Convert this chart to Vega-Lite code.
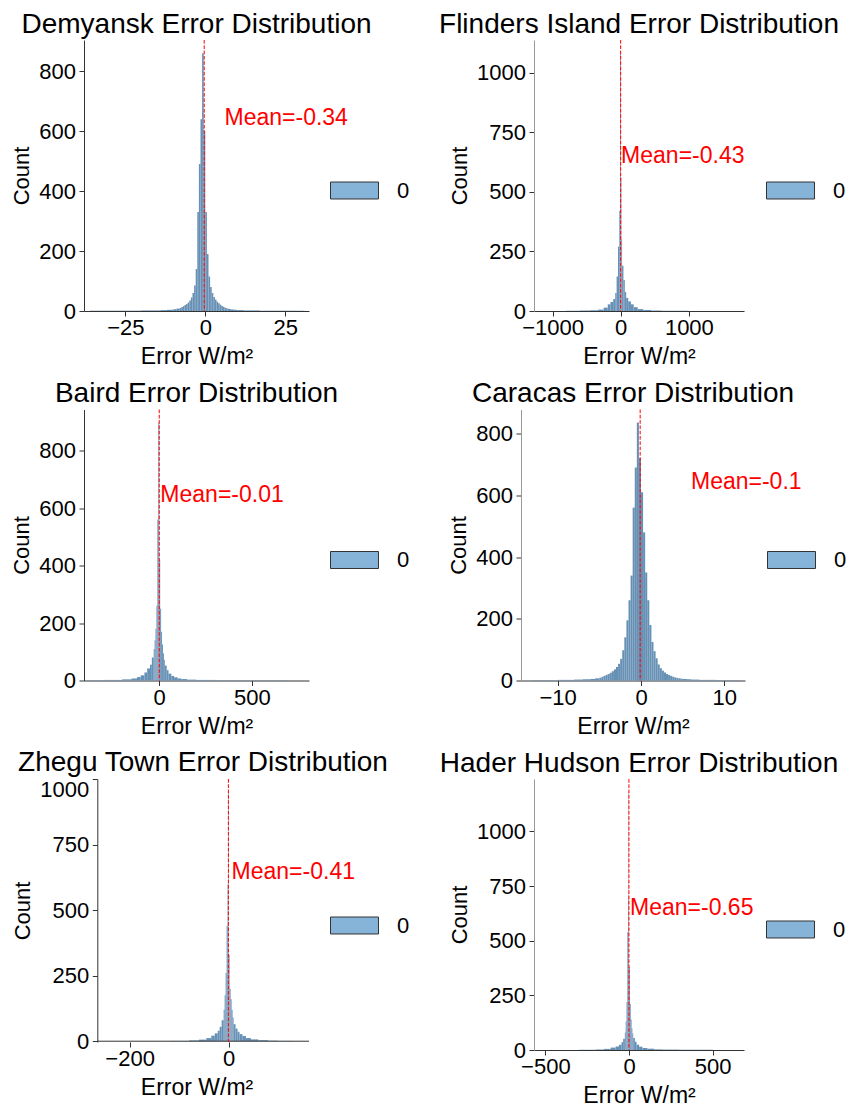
{
 "$schema": "https://vega.github.io/schema/vega-lite/v6.json",
 "background": "white",
 "padding": {"left": 10, "top": 10, "right": 0, "bottom": 0},
 "config": {
  "font": "Liberation Sans",
  "view": {"stroke": null},
  "axis": {"grid": false, "domainColor": "#333", "tickColor": "#333", "labelColor": "#000", "titleColor": "#000", "labelFontSize": 22, "titleFontSize": 22, "titleFontWeight": "normal", "tickSize": 5, "labelFont": "Liberation Sans", "titleFont": "Liberation Sans", "labelFlush": false, "labelOverlap": false, "format": "d"},
  "axisX": {"labelPadding": 1.5, "titlePadding": 7, "titleFontSize": 23},
  "axisY": {"labelPadding": 3.5, "titlePadding": 5},
  "title": {"fontSize": 28, "fontWeight": "normal", "color": "#000", "font": "Liberation Sans", "frame": "group", "anchor": "middle", "offset": 1, "baseline": "alphabetic"},
  "legend": {"orient": "none", "title": null, "labelFontSize": 22, "labelColor": "#000", "labelFont": "Liberation Sans", "labelOffset": 18, "padding": 0, "symbolType": "M-1,-0.354H1V0.354H-1Z", "symbolSize": 2304, "symbolStrokeColor": "#333", "symbolStrokeWidth": 1}
 },
 "datasets": {
  "stats": [
   {"station": "Demyansk", "mean": -0.34, "label": "Mean=-0.34"},
   {"station": "Flinders Island", "mean": -0.43, "label": "Mean=-0.43"},
   {"station": "Baird", "mean": -0.01, "label": "Mean=-0.01"},
   {"station": "Caracas", "mean": -0.1, "label": "Mean=-0.1"},
   {"station": "Zhegu Town", "mean": -0.41, "label": "Mean=-0.41"},
   {"station": "Hader Hudson", "mean": -0.65, "label": "Mean=-0.65"}
  ],
  "dem": [
   {"a": -36, "b": -32, "c": 1}, {"a": -32, "b": -28, "c": 1}, {"a": -28, "b": -24, "c": 1}, {"a": -24, "b": -20, "c": 1}, {"a": -20, "b": -17, "c": 2}, {"a": -17, "b": -14, "c": 2}, {"a": -14, "b": -12, "c": 3}, {"a": -12, "b": -10, "c": 4}, {"a": -10, "b": -9, "c": 6}, {"a": -9, "b": -8, "c": 8},
   {"a": -8, "b": -7.5, "c": 10}, {"a": -7.5, "b": -7, "c": 13}, {"a": -7, "b": -6.5, "c": 16}, {"a": -6.5, "b": -6, "c": 20}, {"a": -6, "b": -5.5, "c": 23}, {"a": -5.5, "b": -5, "c": 28}, {"a": -5, "b": -4.5, "c": 35}, {"a": -4.5, "b": -4, "c": 45}, {"a": -4, "b": -3.5, "c": 60}, {"a": -3.5, "b": -3, "c": 85}, {"a": -3, "b": -2.5, "c": 140}, {"a": -2.5, "b": -2, "c": 330}, {"a": -2, "b": -1.5, "c": 490}, {"a": -1.5, "b": -1, "c": 640}, {"a": -1, "b": -0.5, "c": 860}, {"a": -0.5, "b": 0, "c": 600}, {"a": 0, "b": 0.5, "c": 330}, {"a": 0.5, "b": 1, "c": 190}, {"a": 1, "b": 1.5, "c": 115}, {"a": 1.5, "b": 2, "c": 80}, {"a": 2, "b": 2.5, "c": 60}, {"a": 2.5, "b": 3, "c": 47}, {"a": 3, "b": 3.5, "c": 38}, {"a": 3.5, "b": 4, "c": 31}, {"a": 4, "b": 4.5, "c": 26}, {"a": 4.5, "b": 5, "c": 21}, {"a": 5, "b": 5.5, "c": 17}, {"a": 5.5, "b": 6, "c": 14}, {"a": 6, "b": 6.5, "c": 11}, {"a": 6.5, "b": 7, "c": 9},
   {"a": 7, "b": 8, "c": 7}, {"a": 8, "b": 9, "c": 5}, {"a": 9, "b": 10, "c": 4}, {"a": 10, "b": 12, "c": 3}, {"a": 12, "b": 14, "c": 2}, {"a": 14, "b": 17, "c": 2}, {"a": 17, "b": 20, "c": 1}, {"a": 20, "b": 24, "c": 1}, {"a": 24, "b": 28, "c": 1}, {"a": 28, "b": 31, "c": 1}
  ],
  "fli": [
   {"a": -800, "b": -600, "c": 1}, {"a": -600, "b": -450, "c": 2}, {"a": -450, "b": -330, "c": 3}, {"a": -330, "b": -250, "c": 6}, {"a": -250, "b": -190, "c": 14}, {"a": -190, "b": -150, "c": 28}, {"a": -150, "b": -110, "c": 38}, {"a": -110, "b": -80, "c": 50}, {"a": -80, "b": -60, "c": 75}, {"a": -60, "b": -40, "c": 145}, {"a": -40, "b": -20, "c": 270}, {"a": -20, "b": -10, "c": 420}, {"a": -10, "b": 0, "c": 1085}, {"a": 0, "b": 10, "c": 560}, {"a": 10, "b": 20, "c": 300}, {"a": 20, "b": 40, "c": 190}, {"a": 40, "b": 60, "c": 130}, {"a": 60, "b": 80, "c": 80}, {"a": 80, "b": 110, "c": 55}, {"a": 110, "b": 150, "c": 40}, {"a": 150, "b": 190, "c": 28}, {"a": 190, "b": 250, "c": 16}, {"a": 250, "b": 330, "c": 8}, {"a": 330, "b": 450, "c": 4}, {"a": 450, "b": 600, "c": 2}, {"a": 600, "b": 800, "c": 1}, {"a": 800, "b": 1000, "c": 1}
  ],
  "bai": [
   {"a": -400, "b": -300, "c": 1}, {"a": -300, "b": -200, "c": 2}, {"a": -200, "b": -150, "c": 4}, {"a": -150, "b": -120, "c": 7}, {"a": -120, "b": -100, "c": 12}, {"a": -100, "b": -80, "c": 18}, {"a": -80, "b": -65, "c": 28}, {"a": -65, "b": -50, "c": 42}, {"a": -50, "b": -40, "c": 55}, {"a": -40, "b": -30, "c": 80}, {"a": -30, "b": -25, "c": 110}, {"a": -25, "b": -20, "c": 140}, {"a": -20, "b": -15, "c": 180}, {"a": -15, "b": -10, "c": 260}, {"a": -10, "b": -5, "c": 560}, {"a": -5, "b": 0, "c": 898}, {"a": 0, "b": 5, "c": 420}, {"a": 5, "b": 10, "c": 250}, {"a": 10, "b": 15, "c": 170}, {"a": 15, "b": 20, "c": 125}, {"a": 20, "b": 25, "c": 95}, {"a": 25, "b": 30, "c": 72}, {"a": 30, "b": 40, "c": 52}, {"a": 40, "b": 50, "c": 36}, {"a": 50, "b": 65, "c": 24}, {"a": 65, "b": 80, "c": 16}, {"a": 80, "b": 100, "c": 11}, {"a": 100, "b": 120, "c": 7}, {"a": 120, "b": 150, "c": 5}, {"a": 150, "b": 200, "c": 3}, {"a": 200, "b": 300, "c": 2}, {"a": 300, "b": 450, "c": 1}, {"a": 450, "b": 700, "c": 1}
  ],
  "car": [
   {"a": -13, "b": -12, "c": 1}, {"a": -12, "b": -11, "c": 1}, {"a": -11, "b": -10, "c": 1}, {"a": -10, "b": -9, "c": 2}, {"a": -9, "b": -8, "c": 2}, {"a": -8, "b": -7, "c": 3}, {"a": -7, "b": -6, "c": 4}, {"a": -6, "b": -5.5, "c": 5}, {"a": -5.5, "b": -5, "c": 7},
   {"a": -5, "b": -4.75, "c": 9}, {"a": -4.75, "b": -4.5, "c": 12}, {"a": -4.5, "b": -4.25, "c": 15}, {"a": -4.25, "b": -4, "c": 18}, {"a": -4, "b": -3.75, "c": 21}, {"a": -3.75, "b": -3.5, "c": 25}, {"a": -3.5, "b": -3.25, "c": 30}, {"a": -3.25, "b": -3, "c": 36}, {"a": -3, "b": -2.75, "c": 44}, {"a": -2.75, "b": -2.5, "c": 54}, {"a": -2.5, "b": -2.25, "c": 70}, {"a": -2.25, "b": -2, "c": 98}, {"a": -2, "b": -1.75, "c": 140}, {"a": -1.75, "b": -1.5, "c": 195}, {"a": -1.5, "b": -1.25, "c": 260}, {"a": -1.25, "b": -1, "c": 340}, {"a": -1, "b": -0.75, "c": 560}, {"a": -0.75, "b": -0.5, "c": 690}, {"a": -0.5, "b": -0.25, "c": 836}, {"a": -0.25, "b": 0, "c": 720},
   {"a": 0, "b": 0.25, "c": 610}, {"a": 0.25, "b": 0.5, "c": 480}, {"a": 0.5, "b": 0.75, "c": 350}, {"a": 0.75, "b": 1, "c": 260}, {"a": 1, "b": 1.25, "c": 180}, {"a": 1.25, "b": 1.5, "c": 125}, {"a": 1.5, "b": 1.75, "c": 95}, {"a": 1.75, "b": 2, "c": 72}, {"a": 2, "b": 2.25, "c": 52}, {"a": 2.25, "b": 2.5, "c": 40}, {"a": 2.5, "b": 2.75, "c": 32}, {"a": 2.75, "b": 3, "c": 26}, {"a": 3, "b": 3.25, "c": 21}, {"a": 3.25, "b": 3.5, "c": 18}, {"a": 3.5, "b": 3.75, "c": 15}, {"a": 3.75, "b": 4, "c": 12}, {"a": 4, "b": 4.25, "c": 10}, {"a": 4.25, "b": 4.5, "c": 8}, {"a": 4.5, "b": 4.75, "c": 7}, {"a": 4.75, "b": 5, "c": 6},
   {"a": 5, "b": 5.5, "c": 5}, {"a": 5.5, "b": 6, "c": 4}, {"a": 6, "b": 7, "c": 3}, {"a": 7, "b": 8, "c": 2}, {"a": 8, "b": 9, "c": 2}, {"a": 9, "b": 10, "c": 1}, {"a": 10, "b": 11, "c": 1}, {"a": 11, "b": 12, "c": 1}
  ],
  "zhe": [
   {"a": -120, "b": -80, "c": 1}, {"a": -80, "b": -60, "c": 3}, {"a": -60, "b": -45, "c": 6}, {"a": -45, "b": -35, "c": 12}, {"a": -35, "b": -28, "c": 21}, {"a": -28, "b": -22, "c": 30}, {"a": -22, "b": -18, "c": 40}, {"a": -18, "b": -14, "c": 55}, {"a": -14, "b": -10, "c": 80}, {"a": -10, "b": -8, "c": 120}, {"a": -8, "b": -6, "c": 175}, {"a": -6, "b": -4, "c": 260}, {"a": -4, "b": -2, "c": 440}, {"a": -2, "b": -1, "c": 600}, {"a": -1, "b": 0, "c": 952}, {"a": 0, "b": 2, "c": 330}, {"a": 2, "b": 4, "c": 200}, {"a": 4, "b": 6, "c": 160}, {"a": 6, "b": 8, "c": 120}, {"a": 8, "b": 10, "c": 90}, {"a": 10, "b": 14, "c": 65}, {"a": 14, "b": 18, "c": 48}, {"a": 18, "b": 22, "c": 36}, {"a": 22, "b": 28, "c": 27}, {"a": 28, "b": 35, "c": 20}, {"a": 35, "b": 45, "c": 12}, {"a": 45, "b": 60, "c": 7}, {"a": 60, "b": 80, "c": 4}, {"a": 80, "b": 100, "c": 2}, {"a": 100, "b": 130, "c": 1}
  ],
  "had": [
   {"a": -300, "b": -200, "c": 1}, {"a": -200, "b": -150, "c": 2}, {"a": -150, "b": -110, "c": 5}, {"a": -110, "b": -80, "c": 11}, {"a": -80, "b": -60, "c": 16}, {"a": -60, "b": -45, "c": 24}, {"a": -45, "b": -35, "c": 36}, {"a": -35, "b": -25, "c": 52}, {"a": -25, "b": -20, "c": 80}, {"a": -20, "b": -15, "c": 130}, {"a": -15, "b": -10, "c": 220}, {"a": -10, "b": -5, "c": 540}, {"a": -5, "b": -3, "c": 1180}, {"a": -3, "b": 0, "c": 700}, {"a": 0, "b": 5, "c": 380}, {"a": 5, "b": 10, "c": 210}, {"a": 10, "b": 15, "c": 140}, {"a": 15, "b": 20, "c": 100}, {"a": 20, "b": 25, "c": 75}, {"a": 25, "b": 35, "c": 55}, {"a": 35, "b": 45, "c": 38}, {"a": 45, "b": 60, "c": 24}, {"a": 60, "b": 80, "c": 15}, {"a": 80, "b": 110, "c": 9}, {"a": 110, "b": 150, "c": 6}, {"a": 150, "b": 200, "c": 3}, {"a": 200, "b": 300, "c": 2}, {"a": 300, "b": 500, "c": 1}
  ]
 },
 "resolve": {"scale": {"fill": "independent"}, "legend": {"fill": "independent"}},
 "spacing": 10.5,
 "vconcat": [
  {
   "bounds": "flush", "spacing": 225,
   "resolve": {"scale": {"fill": "independent"}, "legend": {"fill": "independent"}},
   "hconcat": [
    {
     "width": 225, "height": 271,
     "title": "Demyansk Error Distribution",
     "layer": [
      {"data": {"name": "dem"}, "mark": {"type": "bar", "color": "#6790b5"},
       "encoding": {
        "x": {"field": "a", "type": "quantitative", "scale": {"domain": [-37.9, 32.4], "nice": false, "zero": false}, "axis": {"title": "Error W/m²", "values": [-25, 0, 25]}},
        "x2": {"field": "b"},
        "y": {"field": "c", "type": "quantitative", "scale": {"domain": [0, 904], "nice": false}, "axis": {"title": "Count", "values": [0, 200, 400, 600, 800]}},
        "y2": {"datum": 0}
       }},
      {"data": {"name": "stats"}, "transform": [{"filter": "datum.station == 'Demyansk'"}], "mark": {"type": "bar"},
       "encoding": {"x": {"datum": 0}, "x2": {"datum": 0}, "y": {"datum": 0}, "y2": {"datum": 0},
        "fill": {"datum": "0", "type": "nominal", "scale": {"range": ["#86b4d8"]}, "legend": {"legendX": 246, "legendY": 126}}}},
      {"data": {"name": "stats"}, "transform": [{"filter": "datum.station == 'Demyansk'"}], "mark": {"type": "rule", "color": "#ff0000", "strokeDash": [3.7, 1.6], "strokeWidth": 1}, "encoding": {"x": {"field": "mean", "type": "quantitative"}}},
      {"data": {"name": "stats"}, "transform": [{"filter": "datum.station == 'Demyansk'"}], "mark": {"type": "text", "color": "#ff0000", "fontSize": 23, "font": "Liberation Sans", "align": "left", "baseline": "alphabetic"}, "encoding": {"x": {"datum": 6}, "y": {"datum": 620}, "text": {"field": "label"}}}
     ]
    },
    {
     "width": 210, "height": 271,
     "title": "Flinders Island Error Distribution",
     "layer": [
      {"data": {"name": "fli"}, "mark": {"type": "bar", "color": "#6790b5"},
       "encoding": {
        "x": {"field": "a", "type": "quantitative", "scale": {"domain": [-1272, 1809], "nice": false, "zero": false}, "axis": {"title": "Error W/m²", "values": [-1000, 0, 1000]}},
        "x2": {"field": "b"},
        "y": {"field": "c", "type": "quantitative", "scale": {"domain": [0, 1137], "nice": false}, "axis": {"title": "Count", "values": [0, 250, 500, 750, 1000], "domainColor": "#999"}},
        "y2": {"datum": 0}
       }},
      {"data": {"name": "stats"}, "transform": [{"filter": "datum.station == 'Flinders Island'"}], "mark": {"type": "bar"},
       "encoding": {"x": {"datum": 0}, "x2": {"datum": 0}, "y": {"datum": 0}, "y2": {"datum": 0},
        "fill": {"datum": "0", "type": "nominal", "scale": {"range": ["#86b4d8"]}, "legend": {"legendX": 232, "legendY": 126}}}},
      {"data": {"name": "stats"}, "transform": [{"filter": "datum.station == 'Flinders Island'"}], "mark": {"type": "rule", "color": "#ff0000", "strokeDash": [3.7, 1.6], "strokeWidth": 1}, "encoding": {"x": {"field": "mean", "type": "quantitative"}}},
      {"data": {"name": "stats"}, "transform": [{"filter": "datum.station == 'Flinders Island'"}], "mark": {"type": "text", "color": "#ff0000", "fontSize": 23, "font": "Liberation Sans", "align": "left", "baseline": "alphabetic"}, "encoding": {"x": {"datum": 6}, "y": {"datum": 620}, "text": {"field": "label"}}}
     ]
    }
   ]
  },
  {
   "bounds": "flush", "spacing": 212,
   "resolve": {"scale": {"fill": "independent"}, "legend": {"fill": "independent"}},
   "hconcat": [
    {
     "width": 225, "height": 271,
     "title": "Baird Error Distribution",
     "layer": [
      {"data": {"name": "bai"}, "mark": {"type": "bar", "color": "#6790b5"},
       "encoding": {
        "x": {"field": "a", "type": "quantitative", "scale": {"domain": [-406, 808], "nice": false, "zero": false}, "axis": {"title": "Error W/m²", "values": [0, 500]}},
        "x2": {"field": "b"},
        "y": {"field": "c", "type": "quantitative", "scale": {"domain": [0, 943], "nice": false}, "axis": {"title": "Count", "values": [0, 200, 400, 600, 800]}},
        "y2": {"datum": 0}
       }},
      {"data": {"name": "stats"}, "transform": [{"filter": "datum.station == 'Baird'"}], "mark": {"type": "bar"},
       "encoding": {"x": {"datum": 0}, "x2": {"datum": 0}, "y": {"datum": 0}, "y2": {"datum": 0},
        "fill": {"datum": "0", "type": "nominal", "scale": {"range": ["#86b4d8"]}, "legend": {"legendX": 246, "legendY": 126}}}},
      {"data": {"name": "stats"}, "transform": [{"filter": "datum.station == 'Baird'"}], "mark": {"type": "rule", "color": "#ff0000", "strokeDash": [3.7, 1.6], "strokeWidth": 1}, "encoding": {"x": {"field": "mean", "type": "quantitative"}}},
      {"data": {"name": "stats"}, "transform": [{"filter": "datum.station == 'Baird'"}], "mark": {"type": "text", "color": "#ff0000", "fontSize": 23, "font": "Liberation Sans", "align": "left", "baseline": "alphabetic"}, "encoding": {"x": {"datum": 6}, "y": {"datum": 620}, "text": {"field": "label"}}}
     ]
    },
    {
     "width": 224, "height": 271,
     "title": "Caracas Error Distribution",
     "layer": [
      {"data": {"name": "car"}, "mark": {"type": "bar", "color": "#6790b5"},
       "encoding": {
        "x": {"field": "a", "type": "quantitative", "scale": {"domain": [-14.4, 12.48], "nice": false, "zero": false}, "axis": {"title": "Error W/m²", "values": [-10, 0, 10]}},
        "x2": {"field": "b"},
        "y": {"field": "c", "type": "quantitative", "scale": {"domain": [0, 878], "nice": false}, "axis": {"title": "Count", "values": [0, 200, 400, 600, 800], "domainColor": "#999"}},
        "y2": {"datum": 0}
       }},
      {"data": {"name": "stats"}, "transform": [{"filter": "datum.station == 'Caracas'"}], "mark": {"type": "bar"},
       "encoding": {"x": {"datum": 0}, "x2": {"datum": 0}, "y": {"datum": 0}, "y2": {"datum": 0},
        "fill": {"datum": "0", "type": "nominal", "scale": {"range": ["#86b4d8"]}, "legend": {"legendX": 246, "legendY": 126}}}},
      {"data": {"name": "stats"}, "transform": [{"filter": "datum.station == 'Caracas'"}], "mark": {"type": "rule", "color": "#ff0000", "strokeDash": [3.7, 1.6], "strokeWidth": 1}, "encoding": {"x": {"field": "mean", "type": "quantitative"}}},
      {"data": {"name": "stats"}, "transform": [{"filter": "datum.station == 'Caracas'"}], "mark": {"type": "text", "color": "#ff0000", "fontSize": 23, "font": "Liberation Sans", "align": "left", "baseline": "alphabetic"}, "encoding": {"x": {"datum": 6}, "y": {"datum": 620}, "text": {"field": "label"}}}
     ]
    }
   ]
  },
  {
   "bounds": "flush", "spacing": 225,
   "resolve": {"scale": {"fill": "independent"}, "legend": {"fill": "independent"}},
   "hconcat": [
    {
     "width": 225, "height": 263,
     "title": {"text": "Zhegu Town Error Distribution", "dx": 6.5},
     "layer": [
      {"data": {"name": "zhe"}, "mark": {"type": "bar", "color": "#6790b5"},
       "encoding": {
        "x": {"field": "a", "type": "quantitative", "scale": {"domain": [-292.1, 162.4], "nice": false, "zero": false}, "axis": {"title": "Error W/m²", "values": [-200, 0], "domain": false}},
        "x2": {"field": "b"},
        "y": {"field": "c", "type": "quantitative", "scale": {"domain": [-3, 1000], "nice": false, "zero": false}, "axis": {"title": "Count", "values": [0, 250, 500, 750, 1000], "offset": -13.3, "labelFlush": 0.5}},
        "y2": {"datum": 0}
       }},
      {"data": {"name": "stats"}, "transform": [{"filter": "datum.station == 'Zhegu Town'"}], "mark": {"type": "bar"},
       "encoding": {"x": {"datum": 0}, "x2": {"datum": 0}, "y": {"datum": 0}, "y2": {"datum": 0},
        "fill": {"datum": "0", "type": "nominal", "scale": {"range": ["#86b4d8"]}, "legend": {"legendX": 246, "legendY": 122}}}},
      {"data": {"name": "stats"}, "transform": [{"filter": "datum.station == 'Zhegu Town'"}], "mark": {"type": "rule", "color": "#333", "strokeWidth": 1}, "encoding": {"x": {"datum": -265}, "x2": {"datum": 162.4}, "y": {"datum": 0}}},
      {"data": {"name": "stats"}, "transform": [{"filter": "datum.station == 'Zhegu Town'"}], "mark": {"type": "rule", "color": "#ff0000", "strokeDash": [3.7, 1.6], "strokeWidth": 1}, "encoding": {"x": {"field": "mean", "type": "quantitative"}}},
      {"data": {"name": "stats"}, "transform": [{"filter": "datum.station == 'Zhegu Town'"}], "mark": {"type": "text", "color": "#ff0000", "fontSize": 23, "font": "Liberation Sans", "align": "left", "baseline": "alphabetic"}, "encoding": {"x": {"datum": 6}, "y": {"datum": 620}, "text": {"field": "label"}}}
     ]
    },
    {
     "width": 210, "height": 271,
     "title": "Hader Hudson Error Distribution",
     "layer": [
      {"data": {"name": "had"}, "mark": {"type": "bar", "color": "#6790b5"},
       "encoding": {
        "x": {"field": "a", "type": "quantitative", "scale": {"domain": [-568, 687], "nice": false, "zero": false}, "axis": {"title": "Error W/m²", "values": [-500, 0, 500]}},
        "x2": {"field": "b"},
        "y": {"field": "c", "type": "quantitative", "scale": {"domain": [0, 1240], "nice": false}, "axis": {"title": "Count", "values": [0, 250, 500, 750, 1000], "domainColor": "#999"}},
        "y2": {"datum": 0}
       }},
      {"data": {"name": "stats"}, "transform": [{"filter": "datum.station == 'Hader Hudson'"}], "mark": {"type": "bar"},
       "encoding": {"x": {"datum": 0}, "x2": {"datum": 0}, "y": {"datum": 0}, "y2": {"datum": 0},
        "fill": {"datum": "0", "type": "nominal", "scale": {"range": ["#86b4d8"]}, "legend": {"legendX": 232, "legendY": 126}}}},
      {"data": {"name": "stats"}, "transform": [{"filter": "datum.station == 'Hader Hudson'"}], "mark": {"type": "rule", "color": "#ff0000", "strokeDash": [3.7, 1.6], "strokeWidth": 1}, "encoding": {"x": {"field": "mean", "type": "quantitative"}}},
      {"data": {"name": "stats"}, "transform": [{"filter": "datum.station == 'Hader Hudson'"}], "mark": {"type": "text", "color": "#ff0000", "fontSize": 23, "font": "Liberation Sans", "align": "left", "baseline": "alphabetic"}, "encoding": {"x": {"datum": 6}, "y": {"datum": 620}, "text": {"field": "label"}}}
     ]
    }
   ]
  }
 ]
}
